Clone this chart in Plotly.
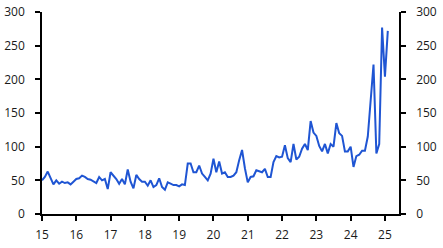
import plotly.graph_objects as go

start_year = 2015
values = [
    50, 55, 63, 53, 44, 50, 45, 48, 46, 47, 44, 48,
    52, 53, 57, 55, 52, 51, 49, 46, 55, 50, 52, 37,
    62, 57, 52, 45, 52, 44, 66, 48, 38, 58, 52, 48,
    48, 42, 50, 40, 43, 53, 40, 36, 47, 45, 43, 43,
    41, 44, 43, 75, 75, 62, 62, 72, 60, 55, 50, 60,
    82, 62, 78, 60, 62, 55, 55, 57, 62, 80, 95, 68,
    47, 55, 56, 65, 63, 62, 67, 55, 55, 77, 86, 84,
    85, 102, 83, 77, 104, 81, 85, 97, 104, 95, 138, 121,
    116, 101, 93, 104, 90, 104, 100, 135, 120, 116, 93, 93,
    100, 70, 86, 88, 94, 94, 115, 169, 222, 90, 104, 277,
    204, 272,
]
dates = [start_year + i / 12 for i in range(len(values))]

x_tickvals = list(range(2015, 2026))
x_ticktext = [str(y)[2:] for y in x_tickvals]
y_tickvals = [0, 50, 100, 150, 200, 250, 300]

fig = go.Figure()
fig.add_trace(go.Scatter(x=dates, y=values, mode="lines",
                         line=dict(color="#1f55d3", width=2)))
fig.add_trace(go.Scatter(x=dates, y=values, mode="lines", yaxis="y2",
                         line=dict(color="rgba(0,0,0,0)", width=0),
                         hoverinfo="skip", showlegend=False))

font = dict(family="Open Sans, Noto Sans, sans-serif", size=12, color="#1a1a1a")
axis_common = dict(showgrid=False, zeroline=False, showline=True,
                   linecolor="black", linewidth=1.5, ticks="outside",
                   ticklen=5, tickwidth=1.5, tickcolor="black", tickfont=font,
                   automargin=False)

fig.update_layout(
    width=443, height=248,
    margin=dict(l=42, r=44, t=12, b=34),
    paper_bgcolor="white", plot_bgcolor="white",
    showlegend=False,
    xaxis=dict(range=[2015, 2025.41], tickvals=x_tickvals, ticktext=x_ticktext,
               ticklabelstandoff=4, **axis_common),
    yaxis=dict(range=[0, 300], tickvals=y_tickvals, ticklabelstandoff=8,
               **axis_common),
    yaxis2=dict(range=[0, 300], tickvals=y_tickvals, overlaying="y",
                side="right", ticklabelstandoff=8, **axis_common),
)

fig.write_html("out.html")
